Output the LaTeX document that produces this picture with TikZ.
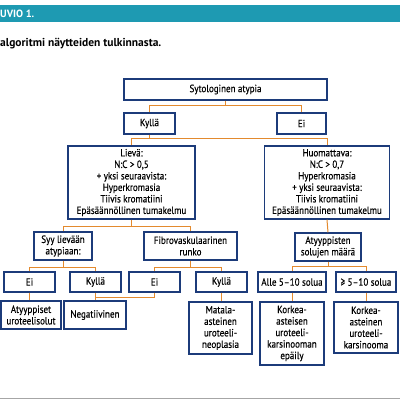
\documentclass[tikz,border=0pt]{standalone}
\usepackage{fontspec}
\setmainfont{PT Sans}
\newfontfamily\boxfont{PT Sans}[FakeStretch=0.86,FakeBold=0.3]
\definecolor{boxnavy}{HTML}{1C3B7A}
\definecolor{connorange}{HTML}{E38A2E}
\definecolor{hdrteal}{HTML}{1E9AB2}
\begin{document}
\begin{tikzpicture}[x=1pt,y=-1pt,
  font=\boxfont\fontsize{10.5}{11.5}\selectfont,
  box/.style={draw=boxnavy, line width=1.3pt, fill=white, inner sep=0pt, align=center},
  conn/.style={draw=connorange, line width=1pt}]
\useasboundingbox (0,0) rectangle (400,400);
% header
\fill[hdrteal] (0,5) rectangle (400,22);
\node[anchor=west, text=white, font=\bfseries\fontsize{10.5}{11}\selectfont, inner sep=0pt] (hdr) at (0,14) {UVIO 1.};
\node[anchor=west, font=\bfseries\fontsize{11.5}{13}\selectfont, inner sep=0pt] (title) at (0,44) {algoritmi näytteiden tulkinnasta.};
\draw[gray!70, line width=1pt] (0,398) -- (400,398);
% boxes
\node[box, minimum width=203, minimum height=21] (root) at (225.5,89.5) {Sytologinen atypia};
\node[box, minimum width=51, minimum height=21] (kylla1) at (149.5,123.5) {Kyllä};
\node[box, minimum width=49, minimum height=21] (ei1) at (301.5,123.5) {Ei};
\node[box, minimum width=127, minimum height=73] (lieva) at (131.5,182.5) {Lievä:\\N:C > 0,5\\+ yksi seuraavista:\\Hyperkromasia\\Tiivis kromatiini\\Epäsäännöllinen tumakelmu};
\node[box, minimum width=125, minimum height=73] (huom) at (327,182.5) {Huomattava:\\N:C > 0,7\\Hyperkromasia\\+ yksi seuraavista:\\Tiivis kromatiini\\Epäsäännöllinen tumakelmu};
\node[box, minimum width=58, minimum height=28] (syy) at (63,246) {Syy lievään\\atypiaan:};
\node[box, minimum width=93, minimum height=28] (fibro) at (190.5,246) {Fibrovaskulaarinen\\runko};
\node[box, minimum width=66, minimum height=28] (atyt) at (328,247) {Atyyppisten\\solujen määrä};
\node[box, minimum width=51, minimum height=20] (eiA) at (29.5,282) {Ei};
\node[box, minimum width=51, minimum height=20] (kylB) at (95.5,282) {Kyllä};
\node[box, minimum width=51, minimum height=20] (eiC) at (154.5,282) {Ei};
\node[box, minimum width=51, minimum height=20] (kylD) at (221.5,282) {Kyllä};
\node[box, minimum width=68, minimum height=20] (alle) at (292,282) {Alle 5–10 solua};
\node[box, minimum width=60, minimum height=20] (geq) at (366,282) {≥ 5–10 solua};
\node[box, minimum width=60, minimum height=28] (atyp) at (31,315) {Atyyppiset\\uroteelisolut};
\node[box, minimum width=62, minimum height=28] (neg) at (95,315) {Negatiivinen};
\node[box, minimum width=63, minimum height=52] (matala) at (220.5,328) {Matala-\\asteinen\\uroteeli-\\neoplasia};
\node[box, minimum width=64, minimum height=63] (korkea1) at (292,333.5) {Korkea-\\asteisen\\uroteeli-\\karsinooman\\epäily};
\node[box, minimum width=64, minimum height=51] (korkea2) at (366,327.5) {Korkea-\\asteinen\\uroteeli-\\karsinooma};
% connectors
\draw[conn] (root.south) -- ++(0,5) coordinate (j1) -| (kylla1.north);
\draw[conn] (j1) -| (ei1.north);
\draw[conn] (kylla1.south) -- ++(0,4) coordinate (j2) -| (lieva.north);
\draw[conn] (j2) -| (huom.north);
\draw[conn] (lieva.south) -- ++(0,7) coordinate (j3) -| (syy.north);
\draw[conn] (j3) -| (fibro.north);
\draw[conn] (huom.south) -- (atyt.north);
\draw[conn] (syy.south) -- ++(0,7) coordinate (j4) -| (eiA.north);
\draw[conn] (j4) -| (kylB.north);
\draw[conn] (fibro.south) -- ++(0,7) coordinate (j5) -| (eiC.north);
\draw[conn] (j5) -| (kylD.north);
\draw[conn] (atyt.south) -- ++(0,5) coordinate (j6) -| (alle.north);
\draw[conn] (j6) -| (geq.north);
\draw[conn] (eiA.south) -- (eiA.south |- atyp.north);
\draw[conn] (kylB.south) -- (kylB.south |- neg.north);
\draw[conn] (eiC.south) -- ++(0,5) -| (kylB.south |- neg.north);
\draw[conn] (kylD.south) -- (kylD.south |- matala.north);
\draw[conn] (alle.south) -- (korkea1.north);
\draw[conn] (geq.south) -- (korkea2.north);
\end{tikzpicture}
\end{document}
